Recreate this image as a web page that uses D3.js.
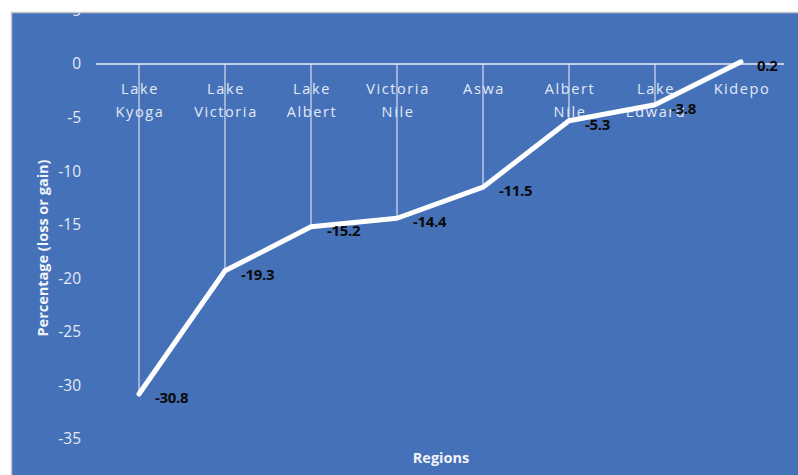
<!DOCTYPE html>
<html>
<head>
<meta charset="utf-8">
<script src="https://cdn.jsdelivr.net/npm/d3@7.9.0/dist/d3.min.js"></script>
<style>
  body { margin: 0; background: #fff; }
  svg { display: block; }
</style>
</head>
<body>
<svg id="chart" width="798" height="475"></svg>
<script>
// Regions and their percentage change (loss or gain)
const regions = [
  ["Lake", "Kyoga"],
  ["Lake", "Victoria"],
  ["Lake", "Albert"],
  ["Victoria", "Nile"],
  ["Aswa"],
  ["Albert", "Nile"],
  ["Lake", "Edward"],
  ["Kidepo"]
];
const values = [-30.8, -19.3, -15.2, -14.4, -11.5, -5.3, -3.8, 0.2];
const yTicks = [5, 0, -5, -10, -15, -20, -25, -30, -35];

const data = regions.map((r, i) => ({ name: r.join(" "), lines: r, value: values[i] }));

// plain hyphen for negatives, like the spreadsheet output
const fmtTick = v => String(v);
const fmtVal = v => v.toFixed(1);

const svg = d3.select("#chart");
const panel = { x: 11, y: 12, w: 787, h: 463 };
const blue = "#4571b9";

// clip region for the blue plot panel
svg.append("clipPath").attr("id", "panel")
  .append("rect").attr("x", panel.x).attr("y", panel.y).attr("width", panel.w).attr("height", panel.h);

svg.append("rect")
  .attr("x", panel.x).attr("y", panel.y)
  .attr("width", panel.w).attr("height", panel.h)
  .attr("fill", blue);

// panel border (left and top)
svg.append("path")
  .attr("d", `M${panel.x + 0.5},${panel.h + panel.y} V${panel.y + 0.5} H${panel.x + panel.w}`)
  .attr("fill", "none").attr("stroke", "#c8c8c8").attr("stroke-width", 1.5);

const g = svg.append("g").attr("clip-path", "url(#panel)");

const x = d3.scaleBand()
  .domain(data.map(d => d.name))
  .range([96, 784]);

const y = d3.scaleLinear()
  .domain([5, -35])
  .range([10.4, 439]);

const cx = d => x(d.name) + x.bandwidth() / 2;

// y axis tick labels
const yAxis = d3.axisLeft(y).tickValues(yTicks).tickFormat(fmtTick).tickSize(0).tickPadding(0);
const ya = g.append("g").attr("transform", "translate(81,0)").call(yAxis);
ya.select(".domain").remove();
ya.selectAll("text")
  .attr("fill", "#e4e9f4")
  .style("font-family", "'Open Sans', sans-serif")
  .style("font-size", "15.5px");

// zero line
g.append("line")
  .attr("x1", 96).attr("x2", 784)
  .attr("y1", y(0)).attr("y2", y(0))
  .attr("stroke", "#e8edf6").attr("stroke-width", 1.5);

// drop lines from the axis to each point
g.selectAll("line.drop")
  .data(data)
  .join("line")
  .attr("class", "drop")
  .attr("x1", cx).attr("x2", cx)
  .attr("y1", y(0)).attr("y2", d => y(d.value))
  .attr("stroke", "#f2f4fa").attr("stroke-width", 1);

// category labels
const cat = g.selectAll("text.cat")
  .data(data)
  .join("text")
  .attr("class", "cat")
  .attr("text-anchor", "middle")
  .attr("fill", "#e4e9f4")
  .style("font-family", "'Open Sans', sans-serif")
  .style("font-size", "14.5px")
  .style("letter-spacing", "1.6px");
cat.selectAll("tspan")
  .data(d => d.lines.map(t => ({ t, x: cx(d) })))
  .join("tspan")
  .attr("x", d => d.x + 1)
  .attr("y", (d, i) => 94 + i * 23)
  .text(d => d.t);

// main line
const line = d3.line().x(cx).y(d => y(d.value));
g.append("path")
  .datum(data)
  .attr("d", line)
  .attr("fill", "none")
  .attr("stroke", "#fff")
  .attr("stroke-width", 5)
  .attr("stroke-linejoin", "round")
  .attr("stroke-linecap", "round");

// value labels
g.selectAll("text.val")
  .data(data)
  .join("text")
  .attr("class", "val")
  .attr("x", d => cx(d) + 16)
  .attr("y", d => y(d.value) + 9)
  .attr("fill", "#0b0b0b")
  .style("font-family", "'Open Sans', sans-serif")
  .style("font-size", "15px")
  .style("font-weight", "700")
  .style("letter-spacing", "-0.3px")
  .text(d => fmtVal(d.value));

// axis titles
g.append("text")
  .attr("transform", "translate(48,248) rotate(-90)")
  .attr("text-anchor", "middle")
  .attr("fill", "#f2f4fa")
  .style("font-family", "'Open Sans', sans-serif")
  .style("font-size", "14.5px")
  .style("font-weight", "700")
  .text("Percentage (loss or gain)");

g.append("text")
  .attr("x", 441).attr("y", 463)
  .attr("text-anchor", "middle")
  .attr("fill", "#f2f4fa")
  .style("font-family", "'Open Sans', sans-serif")
  .style("font-size", "14.5px")
  .style("font-weight", "700")
  .text("Regions");
</script>
</body>
</html>
